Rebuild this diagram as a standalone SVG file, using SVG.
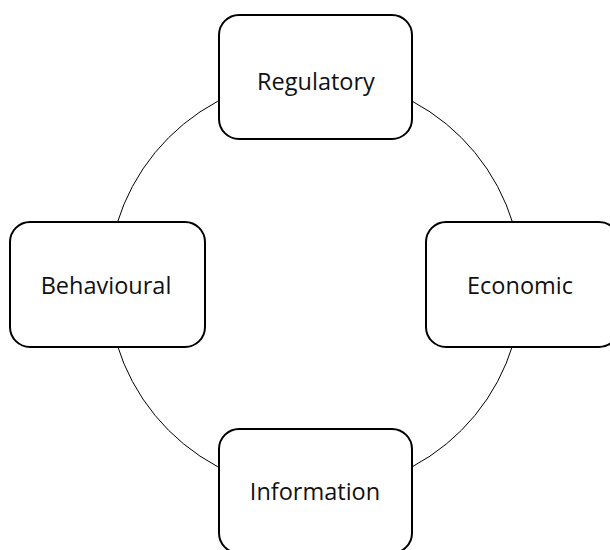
<svg xmlns="http://www.w3.org/2000/svg" width="610" height="550" viewBox="0 0 610 550">
  <style>
    .box { fill: #ffffff; stroke: #000000; stroke-width: 2; }
    .label { font-family: "Open Sans", "Noto Sans", sans-serif; font-size: 23.5px; fill: #111111; text-anchor: middle; }
    .ring { fill: none; stroke: #000000; stroke-width: 1; }
  </style>
  <rect width="610" height="550" fill="#ffffff"/>
  <g id="connectors">
    <circle class="ring" cx="315" cy="284" r="207"/>
  </g>
  <g id="regulatory">
    <rect class="box" x="219" y="15" width="193" height="124" rx="20"/>
    <text class="label" x="316" y="90">Regulatory</text>
  </g>
  <g id="behavioural">
    <rect class="box" x="10" y="222" width="195" height="125" rx="20"/>
    <text class="label" x="106" y="294">Behavioural</text>
  </g>
  <g id="economic">
    <rect class="box" x="426" y="222" width="193" height="125" rx="20"/>
    <text class="label" x="520" y="294">Economic</text>
  </g>
  <g id="information">
    <rect class="box" x="219" y="429" width="193" height="124" rx="20"/>
    <text class="label" x="315" y="500">Information</text>
  </g>
</svg>
